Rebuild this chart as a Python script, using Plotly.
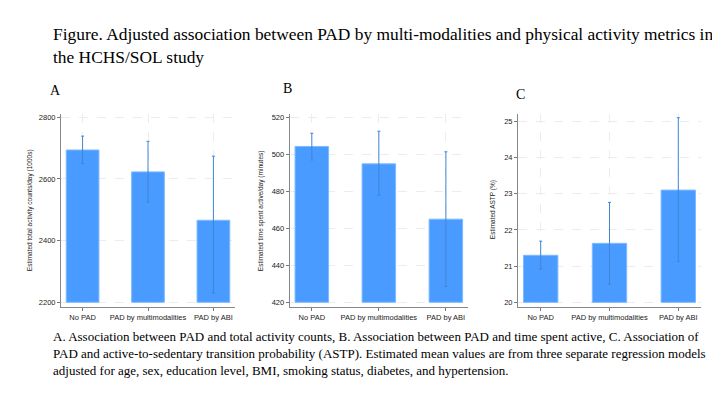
import plotly.graph_objects as go

categories = ["No PAD", "PAD by multimodalities", "PAD by ABI"]

# Panel A: total activity counts/day (1000s)
a_mean = [2694, 2623, 2466]
a_hi = [2739, 2722, 2674]
a_lo = [2650, 2525, 2230]
a_ticks = [2200, 2400, 2600, 2800]

# Panel B: time spent active/day (minutes)
b_mean = [504.2, 494.8, 464.9]
b_hi = [511.3, 512.4, 501.3]
b_lo = [496.9, 477.8, 428.5]
b_ticks = [420, 440, 460, 480, 500, 520]

# Panel C: ASTP (%)
c_mean = [21.30, 21.63, 23.10]
c_hi = [21.69, 22.76, 25.10]
c_lo = [20.92, 20.50, 21.13]
c_ticks = [20, 21, 22, 23, 24, 25]

panels = [
    dict(mean=a_mean, hi=a_hi, lo=a_lo, ticks=a_ticks, base=2200, rng=[2185.7, 2811.7],
         dom=[53/720, 227/720], ytitle="Estimated total activity counts/day (1000s)",
         ytx=22, letter="A", lx=47, ly=82),
    dict(mean=b_mean, hi=b_hi, lo=b_lo, ticks=b_ticks, base=420, rng=[417.6, 521.9],
         dom=[281.7/720, 460/720], ytitle="Estimated time spent active/day (minutes)",
         ytx=253, letter="B", lx=279, ly=81),
    dict(mean=c_mean, hi=c_hi, lo=c_lo, ticks=c_ticks, base=20, rng=[19.88, 25.21],
         dom=[510/720, 693/720], ytitle="Estimated ASTP (%)",
         ytx=485, letter="C", lx=512, ly=87),
]

ydom = [1 - 298.7/405, 1 - 105.7/405]

fig = go.Figure()
annotations = []
layout = {}
xpos = list(range(len(categories)))
for i, p in enumerate(panels):
    n = "" if i == 0 else str(i + 1)
    heights = [m - p["base"] for m in p["mean"]]
    fig.add_trace(go.Bar(
        x=xpos, y=heights, base=p["base"], width=0.5,
        marker=dict(color="#4A9BFF", line=dict(color="#7DBBFF", width=1)),
        error_y=dict(type="data", symmetric=False,
                     array=[h - m for h, m in zip(p["hi"], p["mean"])],
                     arrayminus=[m - l for m, l in zip(p["mean"], p["lo"])],
                     color="#3F86D6", thickness=1, width=1.5),
        xaxis="x" + n, yaxis="y" + n, showlegend=False, hoverinfo="skip",
    ))
    layout["xaxis" + n] = dict(
        domain=p["dom"], anchor="y" + n, range=[-0.33, 2.33],
        tickvals=xpos, ticktext=categories, ticks="outside", ticklen=3,
        tickcolor="#777", showline=True, linecolor="#888", linewidth=1,
        showgrid=True, gridcolor="#ececec", griddash="dash", gridwidth=0.6,
        tickfont=dict(family="Liberation Sans, Arial", size=7.5, color="#222"),
        zeroline=False, fixedrange=True,
    )
    layout["yaxis" + n] = dict(
        domain=ydom, anchor="x" + n, range=p["rng"], tickvals=p["ticks"],
        ticks="outside", ticklen=3, tickcolor="#777", showline=True,
        linecolor="#888", linewidth=1, showgrid=True, gridcolor="#ececec",
        griddash="dash", gridwidth=0.6, zeroline=False,
        tickfont=dict(family="Liberation Sans, Arial", size=7.5, color="#222"),
    )
    annotations.append(dict(
        text=p["ytitle"], x=p["ytx"]/720, y=(ydom[0] + ydom[1]) / 2,
        xref="paper", yref="paper", textangle=-90, showarrow=False,
        font=dict(family="Liberation Sans, Arial", size=6.5, color="#222"),
        xanchor="center", yanchor="middle",
    ))
    annotations.append(dict(
        text=p["letter"], x=p["lx"]/720, y=1 - p["ly"]/405, xref="paper",
        yref="paper", showarrow=False, xanchor="center", yanchor="middle",
        font=dict(family="Liberation Serif, Times New Roman", size=14, color="#000"),
    ))

annotations.append(dict(
    text="Figure. Adjusted association between PAD by multi-modalities and physical activity metrics in<br>the HCHS/SOL study",
    x=43/720, y=1 - 14/405, xref="paper", yref="paper", showarrow=False,
    xanchor="left", yanchor="top", align="left",
    font=dict(family="Liberation Serif, Times New Roman", size=17.4, color="#000"),
))
annotations.append(dict(
    text="A. Association between PAD and total activity counts, B. Association between PAD and time spent active, C. Association of<br>"
         "PAD and active-to-sedentary transition probability (ASTP). Estimated mean values are from three separate regression models<br>"
         "adjusted for age, sex, education level, BMI, smoking status, diabetes, and hypertension.",
    x=43/720, y=1 - 319/405, xref="paper", yref="paper", showarrow=False,
    xanchor="left", yanchor="top", align="left",
    font=dict(family="Liberation Serif, Times New Roman", size=13, color="#000"),
))

fig.update_layout(
    width=720, height=405, margin=dict(l=0, r=0, t=0, b=0),
    paper_bgcolor="white", plot_bgcolor="white", annotations=annotations,
    **layout,
)
fig.write_html("out.html")
